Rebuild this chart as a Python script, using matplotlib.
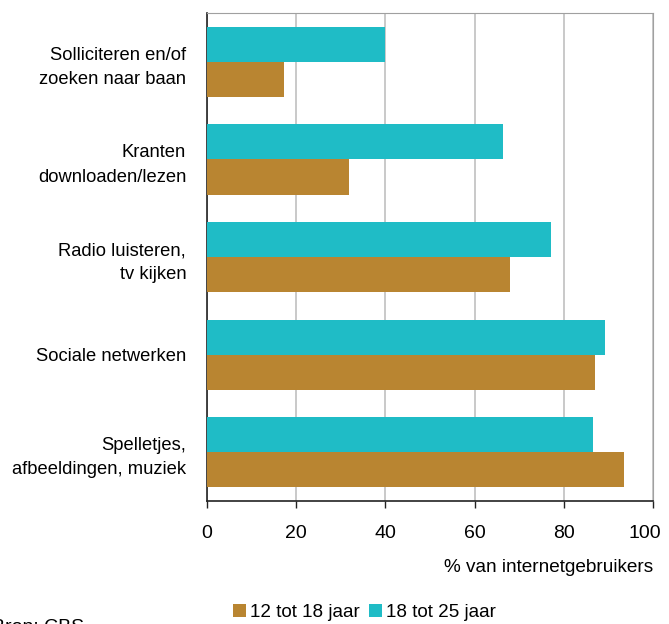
import numpy as np
import matplotlib.pyplot as plt
import matplotlib.transforms as mtransforms

plt.rcParams['font.family'] = ['Liberation Sans', 'DejaVu Sans']

categories = ["Solliciteren en/of\nzoeken naar baan",
              "Kranten\ndownloaden/lezen",
              "Radio luisteren,\ntv kijken",
              "Sociale netwerken",
              "Spelletjes,\nafbeeldingen, muziek"]
age_12_18 = [17.2, 31.8, 68.0, 87.0, 93.5]
age_18_25 = [40.0, 66.4, 77.0, 89.3, 86.6]
series_labels = ["12 tot 18 jaar", "18 tot 25 jaar"]
brown = "#B98531"
cyan = "#1FBCC6"

fig = plt.figure(figsize=(6.69, 6.24), dpi=100)
ax = fig.add_axes([0.3094, 0.197, 0.667, 0.782])

y = np.arange(len(categories))
h = 0.36
b1 = ax.barh(y + h / 2, age_12_18, h, color=brown, label=series_labels[0], zorder=3)
b2 = ax.barh(y - h / 2, age_18_25, h, color=cyan, label=series_labels[1], zorder=3)

ax.set_ylim(len(categories) - 0.5, -0.5)
ax.set_xlim(0, 100)
ax.set_xticks([0, 20, 40, 60, 80, 100])
ax.set_yticks(y)
ax.set_yticklabels(categories, fontsize=13.2, linespacing=1.55)
ax.tick_params(axis='y', length=0, pad=15)
ax.tick_params(axis='x', length=5, width=1, labelsize=14, pad=12.5, color='#222222')
ax.xaxis.grid(True, color='#C0C0C0', linewidth=1.2, zorder=0)

# last tick label sits a bit inward, as in the original
last = ax.get_xticklabels()[-1]
last.set_transform(last.get_transform() + mtransforms.ScaledTranslation(-8 / 100, 0, fig.dpi_scale_trans))

for s in ['top', 'right']:
    ax.spines[s].set_color('#A0A0A0')
for s in ['left', 'bottom']:
    ax.spines[s].set_color('#222222')
    ax.spines[s].set_linewidth(1.2)

ax.set_xlabel("% van internetgebruikers", fontsize=13.7)
ax.xaxis.set_label_coords(1.0, -0.118)
ax.xaxis.label.set_ha('right')

fig.legend(handles=[b1, b2], labels=series_labels, loc='center', bbox_to_anchor=(0.545, 0.019),
           ncol=2, frameon=False, fontsize=13.6, handlelength=0.7, handleheight=0.7,
           handletextpad=0.2, columnspacing=0.5, borderaxespad=0)
fig.text(-0.012, 0.008, "Bron: CBS", fontsize=14, va='top', ha='left')

fig.savefig("out.png", dpi=100)
